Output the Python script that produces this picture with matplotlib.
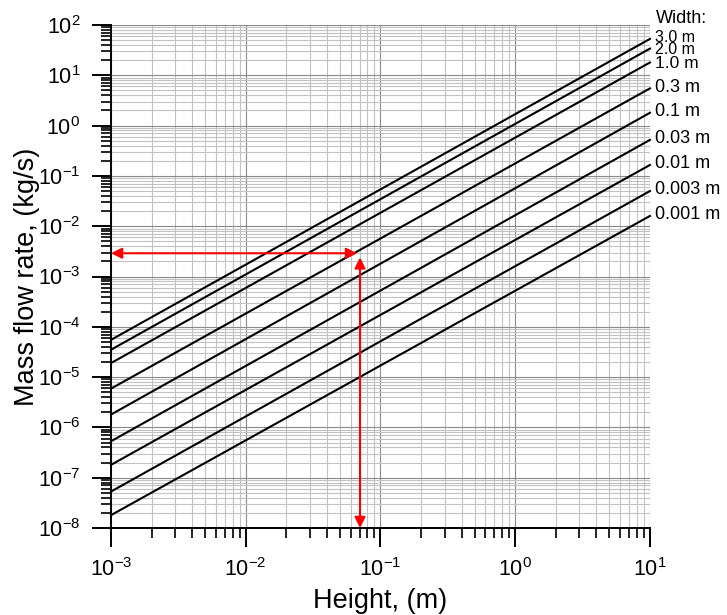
import math
import matplotlib
matplotlib.use("Agg")
import matplotlib.pyplot as plt
from matplotlib.ticker import LogLocator, FuncFormatter, NullFormatter

plt.rcParams['font.family'] = ['Liberation Sans', 'DejaVu Sans']
plt.rcParams['mathtext.fontset'] = 'custom'
plt.rcParams['mathtext.rm'] = 'Liberation Sans'
plt.rcParams['mathtext.it'] = 'Liberation Sans:italic'
plt.rcParams['mathtext.bf'] = 'Liberation Sans:bold'

# data: each width is a straight line on log-log axes
height_range = [1e-3, 10.0]
width_labels = ['3.0 m', '2.0 m', '1.0 m', '0.3 m', '0.1 m',
                '0.03 m', '0.01 m', '0.003 m', '0.001 m']
flow_at_hmin = [5.5e-5, 3.5e-5, 1.9e-5, 5.9e-6, 1.8e-6,
                5.3e-7, 1.8e-7, 5.3e-8, 1.8e-8]
flow_at_hmax = [53, 34, 18, 5.5, 1.8, 0.52, 0.165, 0.05, 0.016]

# example read-off (red arrows)
example_h = 0.0705
example_m = 2.9e-3
example_h_tip = 0.067
example_m_tip = 2.4e-3

xlim = (1e-3, 10)
ylim = (1e-8, 1e2)

fig = plt.figure(figsize=(7.27, 6.15), dpi=100)
ax = fig.add_axes([0.1527, 0.1415, 0.894 - 0.1527, 0.9593 - 0.1415])
ax.set_xscale('log')
ax.set_yscale('log')
ax.set_xlim(*xlim)
ax.set_ylim(*ylim)

ax.grid(True, which='minor', color='#c2c2c2', lw=0.8)
ax.grid(True, which='major', color='#8a8a8a', lw=0.8)
ax.set_axisbelow(True)

# the three top labels are packed tightly in the source, so they are set smaller
label_dy = [2.1, 0.4, 0.4, 2.4, 2.4, 2.4, 2.4, 2.4, 2.4]
label_size = [11.5, 11.5, 12.5, 13, 13, 13, 13, 13, 13]
for lab, m0, m1, dy, fs in zip(width_labels, flow_at_hmin, flow_at_hmax,
                               label_dy, label_size):
    ax.plot(height_range, [m0, m1], color='black', lw=1.5, clip_on=False)
    ax.annotate(lab, xy=(height_range[1], m1), xytext=(4, dy),
                textcoords='offset points', fontsize=fs,
                va='center_baseline', ha='left', annotation_clip=False)

ax.annotate('Width:', xy=(height_range[1], flow_at_hmax[0]), xytext=(4, 16.1),
            textcoords='offset points', fontsize=13,
            va='center_baseline', ha='left', annotation_clip=False)

arrow = dict(arrowstyle='<|-|>', color='red', lw=1.5, mutation_scale=16,
             shrinkA=0, shrinkB=0)
ax.annotate('', xy=(xlim[0], example_m), xytext=(example_h_tip, example_m),
            arrowprops=arrow, annotation_clip=False)
ax.annotate('', xy=(example_h, ylim[0]), xytext=(example_h, example_m_tip),
            arrowprops=arrow, annotation_clip=False)

for s in ['top', 'right']:
    ax.spines[s].set_visible(False)
for s in ['left', 'bottom']:
    ax.spines[s].set_linewidth(1.4)

fmt = FuncFormatter(lambda v, p: r'$\mathregular{10^{%d}}$' % round(math.log10(v)))
ax.xaxis.set_major_locator(LogLocator(base=10, numticks=20))
ax.yaxis.set_major_locator(LogLocator(base=10, numticks=20))
ax.xaxis.set_minor_locator(LogLocator(base=10, subs=range(2, 10), numticks=20))
ax.yaxis.set_minor_locator(LogLocator(base=10, subs=range(2, 10), numticks=20))
ax.xaxis.set_major_formatter(fmt)
ax.yaxis.set_major_formatter(fmt)
ax.xaxis.set_minor_formatter(NullFormatter())
ax.yaxis.set_minor_formatter(NullFormatter())

ax.tick_params(which='major', direction='out', length=14, width=1.4,
               labelsize=15.5, pad=8, top=False, right=False)
ax.tick_params(which='minor', direction='out', length=7, width=1.2,
               top=False, right=False)

ax.set_xlabel('Height, (m)', fontsize=19.5, labelpad=5)
ax.set_ylabel('Mass flow rate, (kg/s)', fontsize=19.5, labelpad=-2)

fig.savefig('out.png', dpi=100)
